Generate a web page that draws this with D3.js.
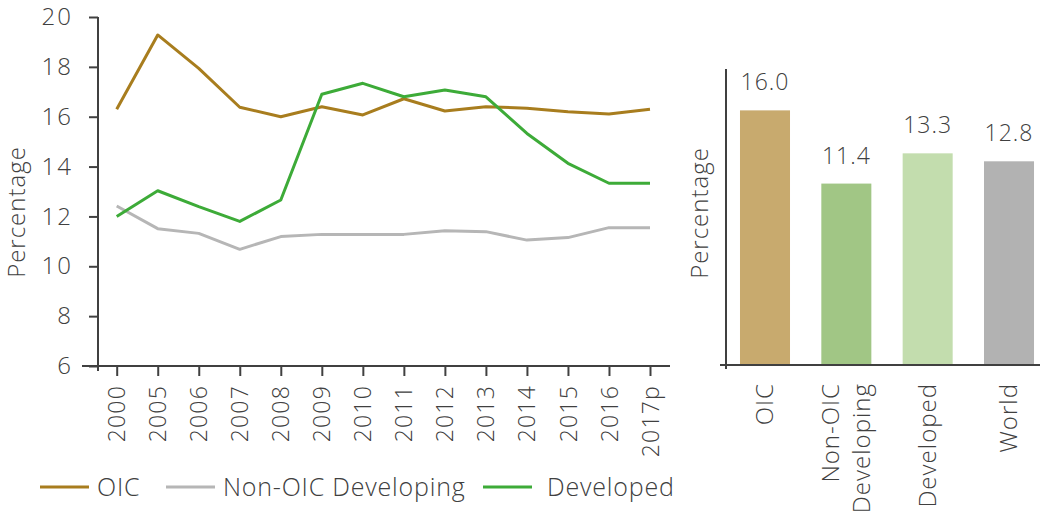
<!DOCTYPE html>
<html>
<head>
<meta charset="utf-8">
<script src="https://cdn.jsdelivr.net/npm/d3@7"></script>
<style>
  body { margin: 0; background: #fff; }
  svg text { font-family: "Open Sans", "Lato", sans-serif; font-weight: 300; fill: #404040; }
</style>
</head>
<body>
<svg width="1040" height="515"></svg>
<script>
// line chart data
let years = ["2000", "2005", "2006", "2007", "2008", "2009", "2010", "2011", "2012", "2013", "2014", "2015", "2016", "2017p"];
let oic = [16.30, 19.28, 17.94, 16.38, 16.0, 16.40, 16.07, 16.72, 16.23, 16.40, 16.34, 16.20, 16.11, 16.30];
let nonOic = [12.42, 11.51, 11.32, 10.68, 11.19, 11.28, 11.28, 11.28, 11.43, 11.39, 11.05, 11.15, 11.55, 11.55];
let developed = [12.0, 13.03, 12.39, 11.80, 12.66, 16.90, 17.34, 16.80, 17.07, 16.80, 15.33, 14.13, 13.33, 13.33];
let yTicks = [6, 8, 10, 12, 14, 16, 18, 20];

// bar chart data
let barCats = ["OIC", "Non-OIC Developing", "Developed", "World"];
let barVals = [16.0, 11.4, 13.3, 12.8];

let svg = d3.select("svg");
let axisColor = "#404040";

let series = [
    {name: "OIC", values: oic, color: "#a87d1e"},
    {name: "Non-OIC Developing", values: nonOic, color: "#b6b6b6"},
    {name: "Developed", values: developed, color: "#3dab38"}
];

/* ---------- left: line chart ---------- */
let x = d3.scalePoint().domain(years).range([116.7, 650]);
let y = d3.scaleLinear().domain([6, 20]).range([366, 17]);

let left = svg.append("g");

// y axis
let yAxis = left.append("g")
    .attr("transform", "translate(98,0)")
    .call(d3.axisLeft(y).tickValues(yTicks).tickSize(9).tickPadding(16).tickSizeOuter(0));
yAxis.select(".domain").remove();
yAxis.selectAll(".tick line").attr("stroke", axisColor).attr("stroke-width", 2);
yAxis.selectAll(".tick text").style("font-size", "24px").style("letter-spacing", "2px");
left.append("line")
    .attr("x1", 98).attr("x2", 98)
    .attr("y1", y(20)).attr("y2", 371)
    .attr("stroke", axisColor).attr("stroke-width", 2);

// x axis
let xAxis = left.append("g")
    .attr("transform", "translate(0,366)")
    .call(d3.axisBottom(x).tickSize(10));
xAxis.select(".domain").remove();
xAxis.selectAll(".tick line").attr("stroke", axisColor).attr("stroke-width", 2);
xAxis.selectAll(".tick text")
    .style("font-size", "23px")
    .style("letter-spacing", "1.2px")
    .attr("text-anchor", "end")
    .attr("transform", "rotate(-90)")
    .attr("x", -19).attr("y", 0).attr("dy", "0.35em");
left.append("line")
    .attr("x1", 82).attr("x2", 670)
    .attr("y1", 366).attr("y2", 366)
    .attr("stroke", axisColor).attr("stroke-width", 2);

left.append("text")
    .attr("transform", "translate(25,212) rotate(-90)")
    .attr("text-anchor", "middle")
    .style("font-size", "24px")
    .style("letter-spacing", "1px")
    .text("Percentage");

let line = d3.line()
    .x((d, i) => x(years[i]))
    .y(d => y(d));

left.append("g").selectAll("path")
    .data([series[1], series[0], series[2]]).enter().append("path")
        .attr("d", d => line(d.values))
        .attr("fill", "none")
        .attr("stroke", d => d.color)
        .attr("stroke-width", 3)
        .attr("stroke-linejoin", "round");

// legend
let legendX = [40, 166, 483];
let legend = svg.append("g").attr("transform", "translate(0,487)");
let items = legend.selectAll("g")
    .data(series).enter().append("g")
        .attr("transform", (d, i) => "translate(" + legendX[i] + ",0)");
items.append("line")
    .attr("x1", 0).attr("x2", 49)
    .attr("stroke", d => d.color)
    .attr("stroke-width", 3);
items.append("text")
    .attr("x", (d, i) => i == 2 ? 64 : 57)
    .attr("dy", "0.35em")
    .style("font-size", "25px")
    .style("letter-spacing", "0.8px")
    .text(d => d.name);

/* ---------- right: bar chart ---------- */
let xb = d3.scaleBand().domain(barCats).range([726, 1048])
    .paddingInner(0.385).paddingOuter(0.172);
let yb = d3.scaleLinear().domain([0, 18.6]).range([365, 69]);
let barColors = ["#c8aa6e", "#a1c685", "#c3ddae", "#b2b2b2"];

let right = svg.append("g");

right.selectAll("rect")
    .data(barVals).enter().append("rect")
        .attr("x", (d, i) => xb(barCats[i]))
        .attr("y", d => yb(d))
        .attr("width", xb.bandwidth())
        .attr("height", d => yb(0) - yb(d))
        .attr("fill", (d, i) => barColors[i]);

right.selectAll("text.val")
    .data(barVals).enter().append("text")
        .attr("class", "val")
        .attr("x", (d, i) => xb(barCats[i]) + xb.bandwidth() / 2)
        .attr("y", d => yb(d) - 20)
        .attr("text-anchor", "middle")
        .style("font-size", "23px")
        .style("letter-spacing", "1px")
        .text(d => d3.format(".1f")(d));

right.append("line")
    .attr("x1", 726).attr("x2", 726)
    .attr("y1", yb.range()[1]).attr("y2", 369)
    .attr("stroke", axisColor).attr("stroke-width", 2);
right.append("line")
    .attr("x1", 720).attr("x2", 1040)
    .attr("y1", yb(0)).attr("y2", yb(0))
    .attr("stroke", axisColor).attr("stroke-width", 2);

right.append("text")
    .attr("transform", "translate(708,213) rotate(-90)")
    .attr("text-anchor", "middle")
    .style("font-size", "24px")
    .style("letter-spacing", "1px")
    .text("Percentage");

// category labels, rotated, wrapping on spaces
right.selectAll("text.cat")
    .data(barCats).enter().append("text")
        .attr("class", "cat")
        .attr("transform", d => "translate(" + (xb(d) + xb.bandwidth() / 2) + ",383) rotate(-90)")
        .attr("text-anchor", "end")
        .style("font-size", "24px")
        .style("letter-spacing", "1px")
        .each(function(d) {
            let words = d == "Non-OIC Developing" ? ["Non-OIC", "Developing"] : [d];
            let t = d3.select(this);
            words.forEach((w, i) => {
                t.append("tspan")
                    .attr("x", 0)
                    .attr("dy", i == 0 ? (0.35 - 0.65 * (words.length - 1)) + "em" : "1.3em")
                    .text(w);
            });
        });
</script>
</body>
</html>
